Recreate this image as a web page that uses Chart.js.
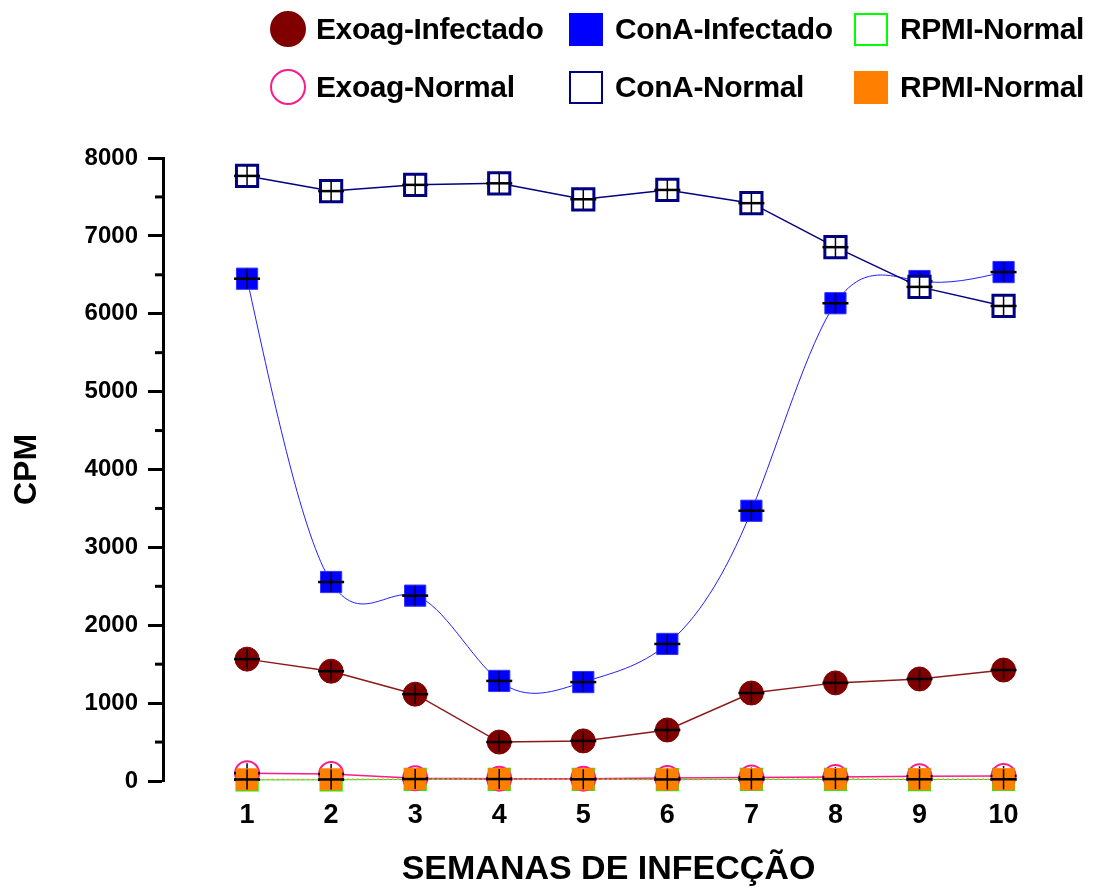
<!DOCTYPE html>
<html>
<head>
<meta charset="utf-8">
<script src="https://cdn.jsdelivr.net/npm/chart.js@4"></script>
<style>
  body { margin: 0; background: #fff; }
  #wrap { position: relative; width: 1094px; height: 893px; }
  #legend {
    position: absolute; left: 270px; top: 11px;
    display: grid; grid-template-columns: 299px 285px 240px; grid-auto-rows: 58px;
    font-family: "Liberation Sans", Arial, Helvetica, sans-serif; font-weight: bold; font-size: 30px;
    white-space: nowrap;
  }
  .item { display: flex; align-items: center; height: 36px; }
  .mk { width: 34px; height: 33px; box-sizing: border-box; margin-right: 12px; flex: none; }
  .mk.round { width: 36px; height: 36px; border-radius: 50%; margin-right: 10px; }
  .item span { letter-spacing: -0.4px; }
</style>
</head>
<body>
<div id="wrap">
  <canvas id="grafico" width="1094" height="893"></canvas>
  <div id="legend"></div>
</div>
<script>
    // Data
    const semanas = [1, 2, 3, 4, 5, 6, 7, 8, 9, 10];
    const exoagInfectado = [1565, 1410, 1115, 500, 515, 655, 1130, 1260, 1310, 1425];
    const exoagNormal = [100, 90, 35, 30, 30, 40, 45, 50, 60, 65];
    const conaInfectado = [6450, 2555, 2380, 1285, 1270, 1760, 3470, 6135, 6420, 6535];
    const conaNormal = [7770, 7575, 7655, 7675, 7470, 7590, 7420, 6855, 6345, 6100];
    const rpmiNormalVerde = [15, 15, 20, 20, 20, 18, 20, 22, 18, 20];
    const rpmiNormalLaranja = [20, 20, 25, 25, 22, 20, 22, 25, 22, 22];
    const yTicks = [0, 1000, 2000, 3000, 4000, 5000, 6000, 7000, 8000];

    const FONT = '"Liberation Sans", Arial, Helvetica, sans-serif';
    const toXY = arr => arr.map((v, i) => ({ x: semanas[i], y: v }));

    // natural cubic spline through the points the scales placed
    const splinePlugin = {
      id: 'naturalSpline',
      beforeDatasetDraw(chart, args) {
        const ds = chart.data.datasets[args.index];
        if (!ds.naturalSpline) return;
        const pts = args.meta.data;
        const n = pts.length;
        const xs = pts.map(p => p.x), ys = pts.map(p => p.y);
        const h = [];
        for (let i = 0; i < n - 1; i++) h.push(xs[i + 1] - xs[i]);
        // solve for second derivatives (M0 = Mn-1 = 0)
        const a = new Array(n).fill(0), b = new Array(n).fill(1), c = new Array(n).fill(0), d = new Array(n).fill(0);
        for (let i = 1; i < n - 1; i++) {
          a[i] = h[i - 1];
          b[i] = 2 * (h[i - 1] + h[i]);
          c[i] = h[i];
          d[i] = 6 * ((ys[i + 1] - ys[i]) / h[i] - (ys[i] - ys[i - 1]) / h[i - 1]);
        }
        for (let i = 1; i < n; i++) {
          const m = a[i] / b[i - 1];
          b[i] -= m * c[i - 1];
          d[i] -= m * d[i - 1];
        }
        const M = new Array(n).fill(0);
        M[n - 1] = d[n - 1] / b[n - 1];
        for (let i = n - 2; i >= 0; i--) M[i] = (d[i] - c[i] * M[i + 1]) / b[i];
        const ctx = chart.ctx;
        ctx.save();
        ctx.strokeStyle = ds.borderColor;
        ctx.lineWidth = ds.borderWidth;
        ctx.beginPath();
        ctx.moveTo(xs[0], ys[0]);
        for (let i = 0; i < n - 1; i++) {
          const hi = h[i], s = (ys[i + 1] - ys[i]) / hi;
          const d0 = s - hi * (2 * M[i] + M[i + 1]) / 6;
          const d1 = s + hi * (M[i] + 2 * M[i + 1]) / 6;
          ctx.bezierCurveTo(xs[i] + hi / 3, ys[i] + d0 * hi / 3,
                            xs[i + 1] - hi / 3, ys[i + 1] - d1 * hi / 3,
                            xs[i + 1], ys[i + 1]);
        }
        ctx.stroke();
        ctx.restore();
      }
    };

    // error bar crosses drawn right after each dataset
    const crossPlugin = {
      id: 'cross',
      afterDatasetDraw(chart, args) {
        const ctx = chart.ctx;
        ctx.save();
        ctx.strokeStyle = '#000';
        args.meta.data.forEach(p => {
          ctx.lineWidth = 2.5;
          ctx.beginPath();
          ctx.moveTo(p.x - 13, p.y);
          ctx.lineTo(p.x + 13, p.y);
          ctx.stroke();
          ctx.lineWidth = 1.5;
          ctx.beginPath();
          ctx.moveTo(p.x, p.y - 10);
          ctx.lineTo(p.x, p.y + 10);
          ctx.stroke();
        });
        ctx.restore();
      }
    };

    // minor ticks on the y axis
    const minorTicks = {
      id: 'minorTicks',
      afterDraw(chart) {
        const y = chart.scales.y;
        const x0 = chart.chartArea.left;
        const ctx = chart.ctx;
        ctx.save();
        ctx.strokeStyle = '#000';
        ctx.lineWidth = 3;
        for (let i = 0; i < y.ticks.length - 1; i++) {
          const v = (y.ticks[i].value + y.ticks[i + 1].value) / 2;
          const py = y.getPixelForValue(v);
          ctx.beginPath();
          ctx.moveTo(x0 - 8, py);
          ctx.lineTo(x0, py);
          ctx.stroke();
        }
        ctx.restore();
      }
    };

    const datasets = [{
      label: 'Exoag-Infectado', data: toXY(exoagInfectado), order: 2,
      borderColor: '#8b1a1a', borderWidth: 1.5, tension: 0,
      pointStyle: 'circle', pointRadius: 12, pointBackgroundColor: '#800000', pointBorderColor: '#800000', pointBorderWidth: 1,
      legend: { bg: '#800000', border: '#800000', round: true }
    }, {
      label: 'ConA-Infectado', data: toXY(conaInfectado), order: 1,
      borderColor: '#2020ff', borderWidth: 1, showLine: false, naturalSpline: true,
      pointStyle: 'rect', pointRadius: 15, pointBackgroundColor: '#0000ff', pointBorderColor: '#3333ff', pointBorderWidth: 1,
      legend: { bg: '#0000ff', border: '#0000ff' }
    }, {
      label: 'RPMI-Normal', data: toXY(rpmiNormalVerde), order: 5,
      borderColor: '#00ee00', borderWidth: 1, tension: 0,
      pointStyle: 'rect', pointRadius: 15, pointBackgroundColor: '#fff', pointBorderColor: '#00ff00', pointBorderWidth: 2,
      legend: { bg: '#fff', border: '#00ff00' }
    }, {
      label: 'Exoag-Normal', data: toXY(exoagNormal), order: 4,
      borderColor: '#ff1a8c', borderWidth: 1.5, tension: 0,
      pointStyle: 'circle', pointRadius: 12, pointBackgroundColor: '#fff', pointBorderColor: '#ff1a8c', pointBorderWidth: 2,
      legend: { bg: '#fff', border: '#ff1a8c', round: true }
    }, {
      label: 'ConA-Normal', data: toXY(conaNormal), order: 0,
      borderColor: '#000080', borderWidth: 1.5, tension: 0,
      pointStyle: 'rect', pointRadius: 15, pointBackgroundColor: '#fff', pointBorderColor: '#000080', pointBorderWidth: 3,
      legend: { bg: '#fff', border: '#000080' }
    }, {
      label: 'RPMI-Normal', data: toXY(rpmiNormalLaranja), order: 3,
      borderColor: '#ff9933', borderWidth: 1.5, borderDash: [2, 3], tension: 0,
      pointStyle: 'rect', pointRadius: 15, pointBackgroundColor: '#ff8000', pointBorderColor: '#ff8000', pointBorderWidth: 1,
      legend: { bg: '#ff8000', border: '#ff8000' }
    }];
    datasets.forEach(d => { d.clip = false; d.fill = false; });

    // Chart
    const ctx = document.getElementById('grafico').getContext('2d');
    const chart = new Chart(ctx, {
      type: 'line',
      data: { datasets: datasets },
      options: {
        responsive: false,
        animation: false,
        layout: { padding: { top: 158, right: 40, left: 0, bottom: 0 } },
        plugins: { legend: { display: false }, tooltip: { enabled: false } },
        scales: {
          x: {
            type: 'linear', min: 0, max: 10.6,
            afterBuildTicks: s => { s.ticks = semanas.map(v => ({ value: v })); },
            afterFit: s => { s.height = 112; },
            grid: { display: false, drawTicks: false },
            border: { display: false },
            ticks: { color: '#000', padding: 18, font: { family: FONT, size: 27, weight: 'bold' } },
            title: { display: true, text: 'SEMANAS DE INFECÇÃO', color: '#000',
                     padding: { top: 0, bottom: 6 }, font: { family: FONT, size: 34, weight: 'bold', lineHeight: 1 } }
          },
          y: {
            min: 0, max: 8000,
            afterBuildTicks: s => { s.ticks = yTicks.map(v => ({ value: v })); },
            afterFit: s => { s.width = 163; },
            grid: { drawOnChartArea: false, tickLength: 15, tickWidth: 3, tickColor: '#000' },
            border: { display: true, color: '#000', width: 3 },
            ticks: { color: '#000', padding: 10, callback: v => String(v),
                     font: { family: FONT, size: 24, weight: 'bold' } },
            title: { display: true, text: 'CPM', color: '#000',
                     padding: { top: 11, bottom: 0 }, font: { family: FONT, size: 32, weight: 'bold', lineHeight: 1 } }
          }
        }
      },
      plugins: [splinePlugin, crossPlugin, minorTicks]
    });

    // HTML legend, 3 columns x 2 rows
    const legendBox = document.getElementById('legend');
    chart.data.datasets.forEach(ds => {
      const item = document.createElement('div');
      item.className = 'item';
      const mk = document.createElement('div');
      mk.className = ds.legend.round ? 'mk round' : 'mk';
      mk.style.background = ds.legend.bg;
      mk.style.border = '2px solid ' + ds.legend.border;
      const txt = document.createElement('span');
      txt.textContent = ds.label;
      item.appendChild(mk);
      item.appendChild(txt);
      legendBox.appendChild(item);
    });
</script>
</body>
</html>
